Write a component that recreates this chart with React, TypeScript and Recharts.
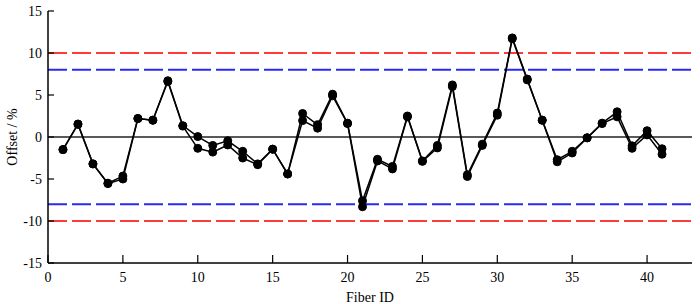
import { LineChart, Line, XAxis, YAxis, ReferenceLine } from 'recharts';

const fiberIds = [
  1, 2, 3, 4, 5, 6, 7, 8, 9, 10, 11, 12, 13, 14, 15, 16, 17, 18, 19, 20, 21,
  22, 23, 24, 25, 26, 27, 28, 29, 30, 31, 32, 33, 34, 35, 36, 37, 38, 39, 40, 41,
];

const offsetA = [
  -1.5, 1.55, -3.2, -5.5, -4.65, 2.2, 2.0, 6.7, 1.35, 0.05, -1.0, -0.45, -1.7, -3.2,
  -1.45, -4.4, 2.8, 1.45, 5.1, 1.65, -7.6, -2.65, -3.5, 2.5, -2.85, -1.0, 6.2, -4.5,
  -0.85, 2.85, 11.8, 6.9, 2.0, -2.7, -1.7, -0.1, 1.65, 3.0, -1.05, 0.75, -1.4,
];

const offsetB = [
  -1.5, 1.5, -3.2, -5.55, -5.0, 2.2, 2.0, 6.6, 1.3, -1.35, -1.8, -0.95, -2.5, -3.3,
  -1.45, -4.4, 1.95, 1.05, 4.9, 1.6, -8.3, -2.85, -3.8, 2.4, -2.9, -1.3, 6.0, -4.7,
  -1.0, 2.6, 11.7, 6.8, 2.0, -2.95, -1.9, -0.1, 1.6, 2.4, -1.35, 0.25, -2.05,
];

const xTicks = [0, 5, 10, 15, 20, 25, 30, 35, 40];
const yTicks = [-15, -10, -5, 0, 5, 10, 15];

const redLimits = [10, -10];
const blueLimits = [8, -8];

const data = fiberIds.map((id, i) => ({ id, a: offsetA[i], b: offsetB[i] }));

const font = '"Liberation Serif", "Times New Roman", serif';
const tickStyle = { fill: '#000', fontSize: 14, fontFamily: font };

export default function App() {
  return (
    <div style={{ position: 'absolute', left: 0, top: 0, background: '#fff' }}>
      <LineChart
        width={700}
        height={304}
        data={data}
        margin={{ top: 11, right: 8, bottom: 0, left: 0 }}
      >
        <XAxis
          dataKey="id"
          type="number"
          domain={[0, 43]}
          ticks={xTicks}
          allowDataOverflow
          height={41}
          tickSize={-8}
          tickMargin={17}
          tick={tickStyle}
          axisLine={{ stroke: '#000', strokeWidth: 1.5 }}
          tickLine={{ stroke: '#000', strokeWidth: 1.2 }}
          label={{
            value: 'Fiber ID',
            position: 'insideBottom',
            offset: 2,
            style: { fill: '#000', fontSize: 14, fontFamily: font },
          }}
        />
        <YAxis
          type="number"
          domain={[-15, 15]}
          ticks={yTicks}
          width={48}
          tickSize={-6}
          tickMargin={12}
          tick={tickStyle}
          axisLine={{ stroke: '#000', strokeWidth: 1.5 }}
          tickLine={{ stroke: '#000', strokeWidth: 1.2 }}
          label={{
            value: 'Offset / %',
            angle: -90,
            position: 'insideLeft',
            offset: 12,
            style: { fill: '#000', fontSize: 14, fontFamily: font, textAnchor: 'middle' },
          }}
        />
        {redLimits.map((v) => (
          <ReferenceLine key={`r${v}`} y={v} stroke="#ff3a3a" strokeWidth={2} strokeDasharray="19 5" />
        ))}
        {blueLimits.map((v) => (
          <ReferenceLine key={`b${v}`} y={v} stroke="#2a2aee" strokeWidth={2} strokeDasharray="19 5" />
        ))}
        <ReferenceLine y={0} stroke="#222" strokeWidth={1.5} />
        <Line
          dataKey="a"
          stroke="#000"
          strokeWidth={1.5}
          dot={{ r: 4, fill: '#000', stroke: '#000', strokeWidth: 1 }}
          isAnimationActive={false}
        />
        <Line
          dataKey="b"
          stroke="#000"
          strokeWidth={1.5}
          dot={{ r: 4, fill: '#000', stroke: '#000', strokeWidth: 1 }}
          isAnimationActive={false}
        />
      </LineChart>
    </div>
  );
}
